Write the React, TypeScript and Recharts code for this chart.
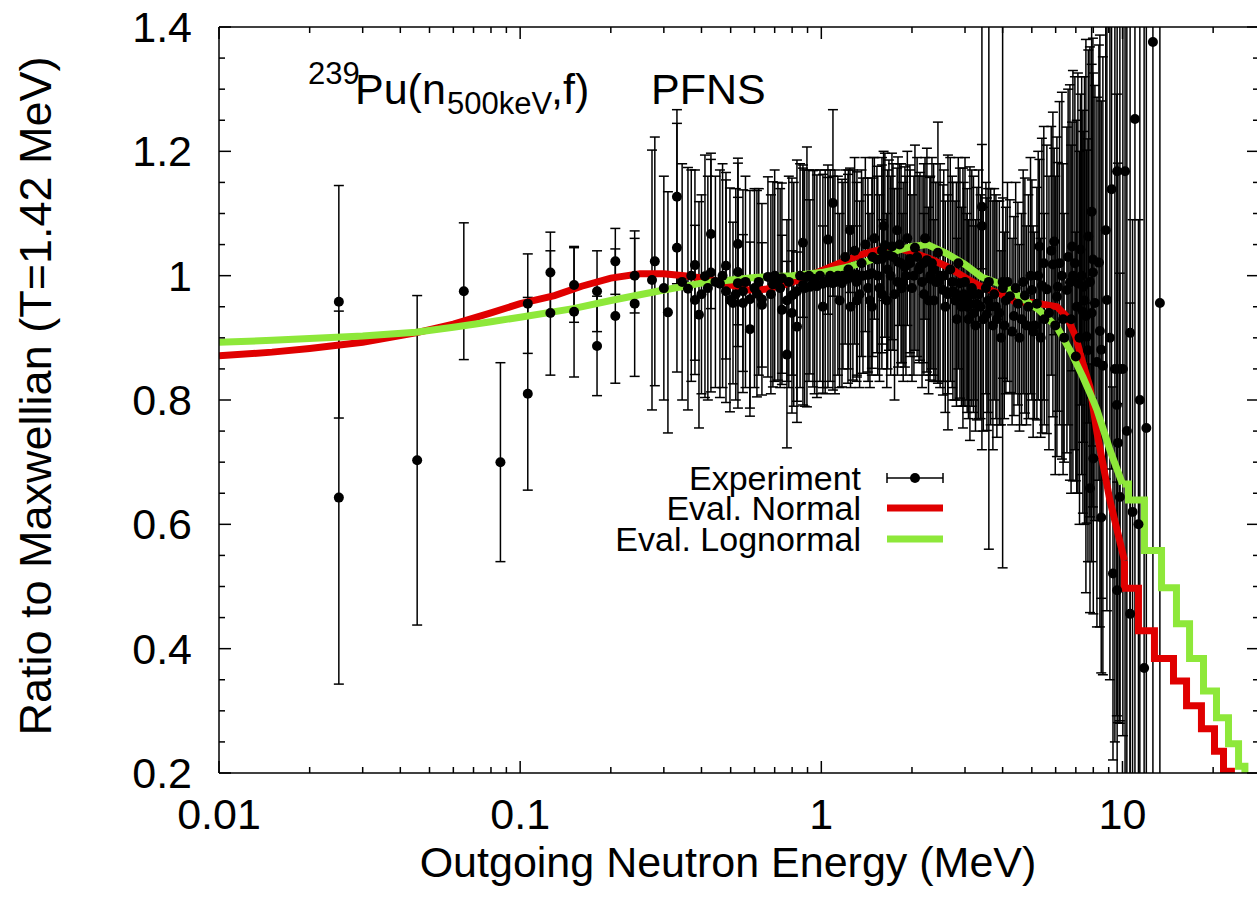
import React from 'react';
import { ComposedChart, Scatter, Line, XAxis, YAxis, ErrorBar } from 'recharts';

const FONT = '"Liberation Sans", Arial, Helvetica, sans-serif';
const RED = '#e00000';
const GREEN = '#8ee83a';

// ---------- axis ticks ----------
const xMajorTicks = [0.01, 0.1, 1, 10];
const xMajorLabels = ['0.01', '0.1', '1', '10'];
const xMinorTicks = [0.02, 0.03, 0.04, 0.05, 0.06, 0.07, 0.08, 0.09, 0.2, 0.3, 0.4, 0.5, 0.6, 0.7, 0.8, 0.9, 2, 3, 4, 5, 6, 7, 8, 9, 20];
const yMajorTicks = [0.2, 0.4, 0.6, 0.8, 1.0, 1.2, 1.4];
const yMajorLabels = ['0.2', '0.4', '0.6', '0.8', '1', '1.2', '1.4'];
const yMinorTicks = [0.25, 0.3, 0.35, 0.45, 0.5, 0.55, 0.65, 0.7, 0.75, 0.85, 0.9, 0.95, 1.05, 1.1, 1.15, 1.25, 1.3, 1.35];

// ---------- experiment: [energy MeV, ratio, error] ----------
const expThermal = [
  [0.025, 0.958, 0.187], [0.025, 0.643, 0.3], [0.0455, 0.703, 0.265], [0.065, 0.975, 0.11],
  [0.086, 0.7, 0.16], [0.106, 0.955, 0.08], [0.106, 0.81, 0.155], [0.126, 1.005, 0.065],
  [0.126, 0.94, 0.1], [0.151, 0.942, 0.105], [0.151, 0.985, 0.06], [0.18, 0.887, 0.08],
  [0.18, 0.975, 0.065], [0.207, 1.023, 0.053], [0.207, 0.935, 0.108], [0.24, 0.955, 0.117],
  [0.24, 1.0, 0.06],
];

const expLowMid = [
  [0.274, 0.993, 0.209], [0.28, 1.023, 0.2], [0.3095, 0.941, 0.194], [0.3316, 1.127, 0.14],
  [0.3316, 1.045, 0.2], [0.3607, 0.979, 0.195], [0.3805, 1.017, 0.153], [0.3805, 0.961, 0.12],
  [0.3924, 0.937, 0.182], [0.4108, 0.999, 0.195], [0.43, 1.005, 0.192], [0.43, 1.067, 0.12],
  [0.4606, 0.987, 0.183], [0.4824, 0.975, 0.179], [0.4824, 1.016, 0.15], [0.4973, 0.961, 0.18],
  [0.509, 0.956, 0.13], [0.5286, 0.988, 0.201], [0.5286, 1.051, 0.13], [0.5286, 1.006, 0.12],
  [0.5492, 0.975, 0.163], [0.5492, 0.956, 0.11], [0.5794, 0.962, 0.175], [0.5794, 0.914, 0.14],
  [0.6112, 0.971, 0.166], [0.635, 0.962, 0.154], [0.635, 0.953, 0.1], [0.6648, 0.998, 0.161],
  [0.6906, 0.986, 0.165], [0.7176, 0.991, 0.159], [0.7399, 0.996, 0.153], [0.7399, 0.945, 0.12],
  [0.7688, 0.96, 0.13], [0.7688, 0.873, 0.15], [0.7988, 0.968, 0.189], [0.7988, 0.94, 0.1],
  [0.83, 0.975, 0.211], [0.83, 0.918, 0.12], [0.8689, 0.985, 0.193], [0.8689, 1.053, 0.12],
  [0.8959, 0.998, 0.209], [0.9166, 0.982, 0.14], [0.938, 0.995, 0.174], [0.9669, 0.983, 0.179],
  [1.012, 0.987, 0.176], [1.012, 0.95, 0.13], [1.052, 0.989, 0.169], [1.052, 1.058, 0.12],
  [1.093, 1.117, 0.15], [1.093, 0.988, 0.172],
];

const expLowMidB = [
  [0.3, 0.98, 0.18], [0.345, 0.99, 0.19], [0.37, 1.0, 0.17], [0.4, 0.97, 0.16],
  [0.42, 0.98, 0.18], [0.445, 0.99, 0.17], [0.47, 1.0, 0.18], [0.52, 0.97, 0.17],
  [0.56, 0.99, 0.17], [0.6, 0.98, 0.16], [0.62, 0.99, 0.15], [0.68, 0.97, 0.16],
  [0.7, 1.0, 0.17], [0.73, 0.98, 0.16], [0.78, 0.99, 0.17], [0.81, 0.97, 0.18],
  [0.85, 1.0, 0.18], [0.88, 0.98, 0.19], [0.91, 1.0, 0.17], [0.95, 0.99, 0.18],
  [0.99, 1.0, 0.17], [1.03, 0.99, 0.18], [1.07, 1.0, 0.17], [1.11, 0.99, 0.18],
];

const expFast = [
  [1.135, 1.0, 0.16], [1.171, 0.988, 0.167], [1.245, 1.073, 0.1], [1.226, 0.995, 0.168],
  [1.273, 1.001, 0.169], [1.313, 1.002, 0.165], [1.313, 0.96, 0.12], [1.375, 1.0, 0.157],
  [1.428, 1.001, 0.156], [1.472, 1.004, 0.153], [1.472, 0.95, 0.11], [1.53, 1.026, 0.15],
  [1.589, 1.027, 0.151], [1.589, 0.97, 0.12], [1.626, 1.049, 0.148], [1.677, 1.033, 0.153],
  [1.716, 1.047, 0.15], [1.785, 1.073, 0.1], [1.797, 1.022, 0.169], [1.852, 0.98, 0.12],
  [1.895, 1.014, 0.161], [1.969, 1.027, 0.151], [2.046, 1.045, 0.165], [2.126, 1.015, 0.151],
  [2.191, 0.97, 0.13], [2.242, 1.025, 0.18], [2.295, 0.995, 0.163], [2.366, 0.96, 0.13],
  [2.439, 1.037, 0.21], [2.534, 0.977, 0.169], [2.633, 0.973, 0.221], [2.735, 0.975, 0.175],
  [2.82, 0.93, 0.13], [2.886, 0.988, 0.185], [2.953, 0.964, 0.209], [3.044, 0.95, 0.15],
  [3.115, 0.955, 0.22], [3.211, 0.94, 0.14], [3.286, 0.955, 0.187], [3.414, 1.08, 0.36],
  [3.414, 1.111, 0.1], [3.547, 0.938, 0.187], [3.6, 0.99, 0.43], [3.713, 0.92, 0.2],
  [3.828, 0.93, 0.19], [4.0, 0.99, 0.46],
];

const expFastB = [
  [1.15, 0.96, 0.14], [1.2, 1.03, 0.14], [1.25, 0.95, 0.13], [1.29, 1.04, 0.15],
  [1.34, 0.97, 0.15], [1.4, 1.05, 0.14], [1.45, 0.96, 0.14], [1.5, 1.06, 0.13],
  [1.56, 0.98, 0.15], [1.61, 1.08, 0.12], [1.65, 0.96, 0.14], [1.7, 1.0, 0.16],
  [1.75, 0.97, 0.17], [1.82, 1.05, 0.13], [1.87, 0.99, 0.16], [1.93, 1.06, 0.14],
  [2.0, 0.98, 0.15], [2.08, 1.03, 0.16], [2.16, 0.99, 0.17], [2.21, 1.06, 0.13],
  [2.27, 0.96, 0.15], [2.33, 1.02, 0.17], [2.4, 0.99, 0.16], [2.48, 1.0, 0.18],
  [2.58, 0.95, 0.17], [2.68, 1.01, 0.18], [2.78, 0.96, 0.16], [2.85, 1.02, 0.17],
  [2.92, 0.95, 0.16], [3.0, 0.99, 0.2], [3.08, 0.93, 0.16], [3.16, 0.98, 0.19],
  [3.25, 0.92, 0.17], [3.33, 0.97, 0.2], [3.45, 0.93, 0.18], [3.52, 0.98, 0.17],
  [3.65, 0.95, 0.19], [3.75, 0.97, 0.17], [3.9, 0.94, 0.18], [3.95, 0.9, 0.14],
];

const expFastC = [
  [1.18, 1.0, 0.15], [1.23, 1.01, 0.16], [1.31, 0.99, 0.16], [1.36, 1.02, 0.15],
  [1.43, 0.98, 0.15], [1.48, 1.03, 0.16], [1.54, 1.0, 0.16], [1.59, 1.04, 0.15],
  [1.66, 1.01, 0.16], [1.73, 1.03, 0.15], [1.79, 0.99, 0.15], [1.84, 1.02, 0.16],
  [1.91, 1.0, 0.16], [1.97, 1.02, 0.15], [2.03, 1.0, 0.16], [2.11, 1.01, 0.15],
  [2.19, 1.02, 0.16], [2.3, 1.0, 0.16], [2.36, 1.01, 0.17], [2.45, 0.99, 0.16],
  [2.55, 1.0, 0.17], [2.63, 0.97, 0.16], [2.72, 0.99, 0.17], [2.81, 0.97, 0.18],
  [2.97, 0.97, 0.18], [3.05, 0.96, 0.18], [3.2, 0.97, 0.19], [3.38, 0.95, 0.18],
  [3.58, 0.96, 0.18], [3.8, 0.95, 0.18],
];

const expHigh = [
  [4.008, 0.98, 0.145], [4.1, 0.96, 0.15], [4.229, 0.967, 0.155], [4.36, 0.935, 0.16],
  [4.495, 0.955, 0.163], [4.62, 0.93, 0.17], [4.742, 0.968, 0.189], [4.87, 0.95, 0.18],
  [5.003, 0.977, 0.177], [5.1, 0.92, 0.15], [5.198, 0.955, 0.187], [5.3, 1.047, 0.14],
  [5.4, 0.984, 0.237], [5.5, 0.93, 0.17], [5.61, 0.978, 0.232], [5.874, 1.018, 0.245],
  [5.93, 1.055, 0.15], [6.057, 0.966, 0.257], [6.1, 0.982, 0.2], [6.293, 1.0, 0.295],
  [6.4, 0.9, 0.2], [6.539, 0.977, 0.262], [6.691, 0.989, 0.318], [6.8, 1.047, 0.2],
  [6.846, 1.0, 0.33], [7.0, 0.87, 0.2], [7.112, 0.988, 0.338], [7.25, 1.042, 0.25],
  [7.389, 0.942, 0.324], [7.4, 0.982, 0.25], [7.561, 0.935, 0.445], [7.6, 0.902, 0.3],
  [7.7, 1.063, 0.3], [7.797, 0.99, 0.378], [7.8, 0.658, 0.2], [7.9, 1.103, 0.3],
  [7.978, 1.005, 0.377], [7.98, 1.026, 0.3], [8.0, 0.706, 0.25], [8.1, 0.956, 0.35],
  [8.226, 0.861, 0.426], [8.35, 1.021, 0.35], [8.414, 0.911, 0.476], [8.5, 0.881, 0.4],
  [8.5, 0.611, 0.25], [8.609, 0.855, 0.497], [8.8, 1.073, 0.4], [8.877, 0.961, 0.5],
  [9.084, 0.9, 0.55], [9.2, 1.139, 0.45], [9.3, 0.521, 0.3], [9.436, 0.85, 0.6],
  [9.58, 0.792, 0.5], [9.6, 1.168, 0.5], [9.6, 0.494, 0.3], [9.66, 0.731, 0.45],
  [9.8, 0.644, 0.36], [9.804, 0.85, 0.57],
];

const expHighB = [
  [4.05, 0.92, 0.15], [4.15, 0.99, 0.16], [4.3, 0.91, 0.15], [4.42, 0.98, 0.17],
  [4.55, 0.9, 0.15], [4.68, 0.99, 0.18], [4.8, 0.92, 0.16], [4.95, 1.0, 0.19],
  [5.05, 0.91, 0.17], [5.25, 1.0, 0.2], [5.35, 0.9, 0.16], [5.48, 1.02, 0.22],
  [5.7, 0.94, 0.22], [5.8, 1.04, 0.2], [5.98, 0.92, 0.24], [6.18, 1.02, 0.26],
  [6.35, 0.93, 0.25], [6.6, 1.03, 0.27], [6.75, 0.93, 0.28], [6.95, 1.02, 0.3],
  [7.05, 0.95, 0.3], [7.2, 0.9, 0.3], [7.32, 1.0, 0.32], [7.48, 0.96, 0.36],
  [7.68, 0.88, 0.34], [7.9, 0.94, 0.4],
];

const expTail = [
  [10.03, 0.85, 0.59], [10.2, 1.168, 1.0], [10.34, 0.75, 0.7], [10.6, 0.908, 0.75],
  [10.6, 0.456, 0.5], [10.8, 0.62, 0.47], [11.0, 1.252, 1.1], [11.3, 0.6, 0.49],
  [11.42, 0.8, 0.75], [11.8, 0.369, 1.2], [12.0, 0.755, 0.8], [12.62, 1.376, 1.2],
  [13.31, 0.956, 0.9],
];

// ---------- evaluations: [energy MeV, ratio] ----------
const normalSmooth = [
  [0.01, 0.871], [0.015, 0.877], [0.02, 0.883], [0.03, 0.893], [0.045, 0.908], [0.06, 0.922],
  [0.08, 0.94], [0.1, 0.955], [0.13, 0.968], [0.16, 0.983], [0.2, 0.996], [0.25, 1.003],
  [0.3, 1.003], [0.35, 1.0], [0.42, 0.995], [0.5, 0.985], [0.57, 0.977], [0.65, 0.978],
  [0.75, 0.985], [0.85, 0.994], [1.0, 1.008], [1.2, 1.024], [1.4, 1.036], [1.6, 1.043],
  [1.8, 1.044], [2.0, 1.038], [2.3, 1.027], [2.63, 1.014], [3.0, 0.997], [3.4, 0.982],
  [3.96, 0.97], [4.4, 0.958], [5.0, 0.957], [5.6, 0.953], [6.06, 0.95], [6.54, 0.934],
  [7.0, 0.901], [7.39, 0.859], [7.8, 0.821], [8.23, 0.747], [9.08, 0.639], [10.15, 0.542],
];
const normalSteps = [
  [10.15, 0.542], [10.15, 0.497], [11.3, 0.429], [12.77, 0.384], [14.77, 0.348],
  [16.32, 0.308], [18.29, 0.271], [20.21, 0.235], [21.65, 0.203], [23.0, 0.15], [24.0, 0.15],
];
const lognormalSmooth = [
  [0.01, 0.893], [0.015, 0.896], [0.02, 0.899], [0.03, 0.903], [0.045, 0.909], [0.06, 0.917],
  [0.08, 0.926], [0.1, 0.933], [0.15, 0.947], [0.2, 0.96], [0.3, 0.977], [0.4, 0.988],
  [0.5, 0.993], [0.6, 0.997], [0.8, 1.0], [1.0, 1.005], [1.2, 1.013], [1.4, 1.022],
  [1.6, 1.032], [1.8, 1.041], [2.0, 1.047], [2.25, 1.05], [2.6, 1.036], [3.0, 1.018],
  [3.4, 0.998], [4.0, 0.985], [4.57, 0.966], [5.28, 0.945], [6.06, 0.917], [6.7, 0.88],
  [7.39, 0.837], [7.98, 0.8], [8.23, 0.784], [9.08, 0.72], [10.0, 0.665],
];
const lognormalSteps = [
  [10.0, 0.665], [10.47, 0.639], [11.83, 0.558], [13.48, 0.498], [15.11, 0.44], [16.7, 0.384],
  [18.58, 0.332], [20.52, 0.289], [22.49, 0.247], [24.29, 0.211], [25.5, 0.15], [26.5, 0.15],
];

const toErrPoints = (rows: number[][]) => rows.map(([x, y, err]) => ({ x, y, err }));
const toPoints = (rows: number[][]) => rows.map(([x, y]) => ({ x, y }));

const experiment = toErrPoints([
  ...expThermal, ...expLowMid, ...expLowMidB, ...expFast, ...expFastB, ...expFastC,
  ...expHigh, ...expHighB, ...expTail,
]);
const normalA = toPoints(normalSmooth);
const normalB = toPoints(normalSteps);
const lognormalA = toPoints(lognormalSmooth);
const lognormalB = toPoints(lognormalSteps);

const xTicks = [...xMajorTicks, ...xMinorTicks].sort((a, b) => a - b);
const yTicks = [...yMajorTicks, ...yMinorTicks].sort((a, b) => a - b);

const near = (a: number, b: number) => Math.abs(a - b) < 1e-9 * Math.max(1, Math.abs(b));
const majorIndex = (list: number[], v: number) => list.findIndex((m) => near(m, v));

// plot frame (pixels in the chart svg)
const PLOT_LEFT = 219;
const PLOT_TOP = 27;
const PLOT_W = 1040;
const PLOT_H = 746;
const PLOT_RIGHT = PLOT_LEFT + PLOT_W;

const MAJ = 12;
const MIN = 6;
const TICK_FONT = 43;

// bottom-axis tick renderer; also draws the mirrored tick on the top frame edge
const XTick = (props: any) => {
  const { x, y, payload } = props;
  const idx = majorIndex(xMajorTicks, payload.value);
  const len = idx >= 0 ? MAJ : MIN;
  return (
    <g>
      <line x1={x} x2={x} y1={y} y2={y - len} stroke="#000" strokeWidth={1.5} />
      <line x1={x} x2={x} y1={PLOT_TOP} y2={PLOT_TOP + len} stroke="#000" strokeWidth={1.5} />
      {idx >= 0 ? (
        <text x={x} y={y + 56} textAnchor="middle" fontSize={TICK_FONT} fontFamily={FONT} fill="#000">
          {xMajorLabels[idx]}
        </text>
      ) : null}
    </g>
  );
};

// left-axis tick renderer; also draws the mirrored tick on the right frame edge
const YTick = (props: any) => {
  const { x, y, payload } = props;
  const idx = majorIndex(yMajorTicks, payload.value);
  const len = idx >= 0 ? MAJ : MIN;
  return (
    <g>
      <line x1={x} x2={x + len} y1={y} y2={y} stroke="#000" strokeWidth={1.5} />
      <line x1={PLOT_RIGHT} x2={PLOT_RIGHT - len} y1={y} y2={y} stroke="#000" strokeWidth={1.5} />
      {idx >= 0 ? (
        <text x={x - 27} y={y + 15} textAnchor="end" fontSize={TICK_FONT} fontFamily={FONT} fill="#000">
          {yMajorLabels[idx]}
        </text>
      ) : null}
    </g>
  );
};

const ExpDot = (props: any) => {
  const { cx, cy } = props;
  if (cx == null || cy == null) return null;
  return <circle cx={cx} cy={cy} r={5} fill="#000" />;
};

const Overlay = () => (
  <svg width={1257} height={910} style={{ position: 'absolute', left: 0, top: 0, pointerEvents: 'none' }}>
    {/* title */}
    <text fontFamily={FONT} fill="#000">
      <tspan x={308} y={84} fontSize={31}>239</tspan>
      <tspan x={355} y={104} fontSize={43}>Pu(n</tspan>
      <tspan x={447} y={114} fontSize={31}>500keV</tspan>
      <tspan x={551} y={104} fontSize={43}>,f)</tspan>
      <tspan x={651} y={104} fontSize={43}>PFNS</tspan>
    </text>
    {/* axis titles */}
    <text x={728} y={877} textAnchor="middle" fontSize={43} fontFamily={FONT} fill="#000">
      Outgoing Neutron Energy (MeV)
    </text>
    <text
      x={51}
      y={396}
      textAnchor="middle"
      fontSize={45}
      fontFamily={FONT}
      fill="#000"
      transform="rotate(-90 51 396)"
    >
      Ratio to Maxwellian (T=1.42 MeV)
    </text>
    {/* legend */}
    <g fontFamily={FONT} fontSize={34} fill="#000">
      <text x={861} y={490} textAnchor="end">Experiment</text>
      <text x={861} y={520} textAnchor="end">Eval. Normal</text>
      <text x={861} y={551} textAnchor="end">Eval. Lognormal</text>
    </g>
    <g stroke="#000" strokeWidth={1.5}>
      <line x1={887} x2={943} y1={478} y2={478} />
      <line x1={887} x2={887} y1={473} y2={483} />
      <line x1={943} x2={943} y1={473} y2={483} />
    </g>
    <circle cx={915} cy={478} r={5} fill="#000" />
    <line x1={887} x2={943} y1={508} y2={508} stroke={RED} strokeWidth={7} />
    <line x1={887} x2={943} y1={539} y2={539} stroke={GREEN} strokeWidth={7} />
  </svg>
);

const clipCss = `
.recharts-scatter, .recharts-errorBars, .recharts-errorBar, .recharts-line { clip-path: url(#plotAreaClip); }
`;

export default function App() {
  return (
    <div style={{ position: 'absolute', left: 0, top: 0, width: 1257, height: 910, overflow: 'hidden', background: '#fff' }}>
      <style>{clipCss}</style>
      <svg width={0} height={0} style={{ position: 'absolute' }}>
        <defs>
          <clipPath id="plotAreaClip" clipPathUnits="userSpaceOnUse">
            <rect x={PLOT_LEFT} y={PLOT_TOP} width={PLOT_W} height={PLOT_H} />
          </clipPath>
        </defs>
      </svg>
      <ComposedChart width={1262} height={910} margin={{ top: 22, right: 0, bottom: 0, left: 0 }}>
        <XAxis
          dataKey="x"
          type="number"
          scale="log"
          domain={[0.01, 28.4]}
          allowDataOverflow
          ticks={xTicks}
          interval={0}
          tickSize={0}
          tickMargin={0}
          tickLine={false}
          height={137}
          axisLine={{ stroke: '#000', strokeWidth: 1.5 }}
          tick={(p: any) => <XTick {...p} />}
        />
        <XAxis
          xAxisId="top"
          orientation="top"
          dataKey="x"
          type="number"
          scale="log"
          domain={[0.01, 28.4]}
          allowDataOverflow
          tick={false}
          tickLine={false}
          height={5}
          axisLine={{ stroke: '#000', strokeWidth: 1.5 }}
        />
        <YAxis
          type="number"
          domain={[0.2, 1.4]}
          allowDataOverflow
          ticks={yTicks}
          interval={0}
          tickSize={0}
          tickMargin={0}
          tickLine={false}
          width={219}
          axisLine={{ stroke: '#000', strokeWidth: 1.5 }}
          tick={(p: any) => <YTick {...p} />}
        />
        <YAxis
          yAxisId="right"
          orientation="right"
          type="number"
          domain={[0.2, 1.4]}
          allowDataOverflow
          tick={false}
          tickLine={false}
          width={3}
          axisLine={{ stroke: '#000', strokeWidth: 1.5 }}
        />
        <Scatter name="Experiment" data={experiment} dataKey="y" isAnimationActive={false} shape={ExpDot}>
          <ErrorBar dataKey="err" direction="y" width={5} stroke="#000" strokeWidth={1.5} isAnimationActive={false} />
        </Scatter>
        <Line name="Eval. Normal" data={normalA} dataKey="y" type="linear" stroke={RED} strokeWidth={7} dot={false} activeDot={false} isAnimationActive={false} />
        <Line
          data={normalB}
          dataKey="y"
          xAxisId="top"
          yAxisId="right"
          type="stepAfter"
          stroke={RED}
          strokeWidth={7}
          dot={false}
          activeDot={false}
          isAnimationActive={false}
          legendType="none"
        />
        <Line name="Eval. Lognormal" data={lognormalA} dataKey="y" type="linear" stroke={GREEN} strokeWidth={7} dot={false} activeDot={false} isAnimationActive={false} />
        <Line data={lognormalB} dataKey="y" type="stepAfter" stroke={GREEN} strokeWidth={7} dot={false} activeDot={false} isAnimationActive={false} legendType="none" />
      </ComposedChart>
      <Overlay />
    </div>
  );
}
